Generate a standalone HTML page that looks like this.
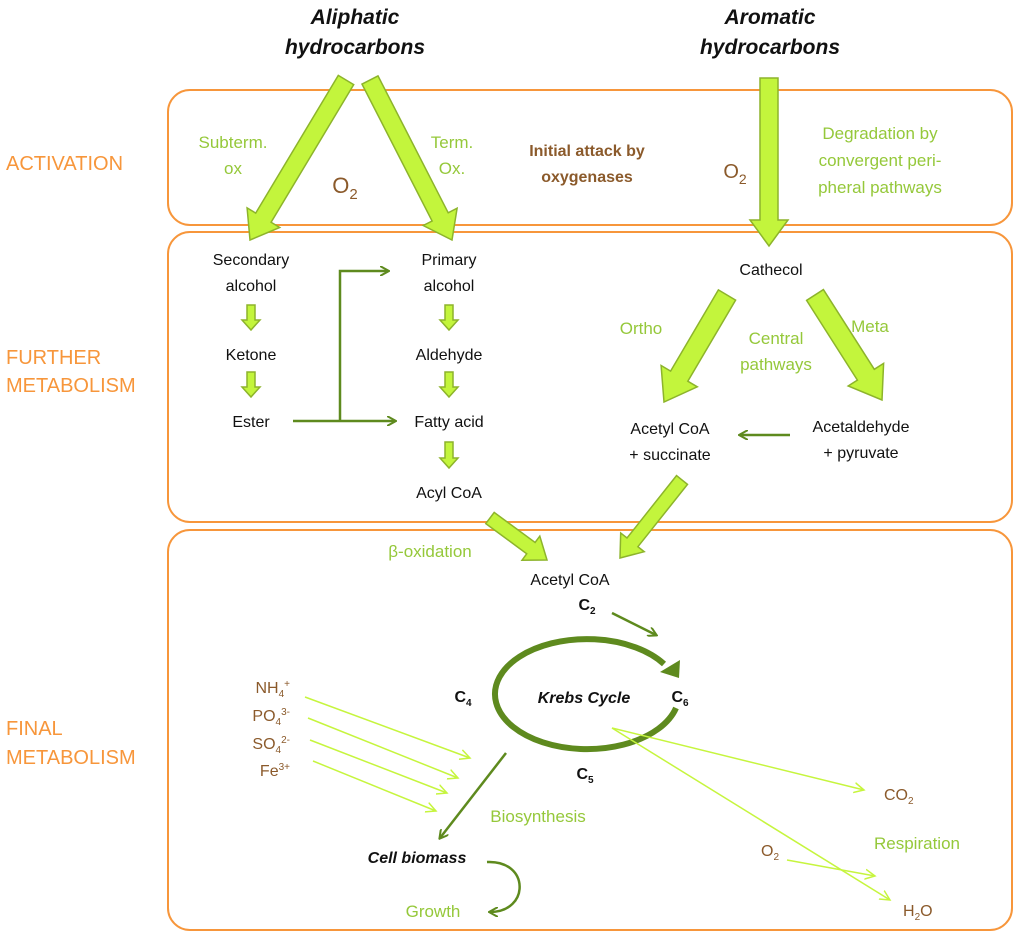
<!DOCTYPE html>
<html><head><meta charset="utf-8"><style>
body{margin:0;background:#fff}
svg{display:block;font-family:"Liberation Sans",sans-serif}
.o{fill:#F7963B;font-size:20px}
.g{fill:#95C83A;font-size:17px}
.k{fill:#111;font-size:16px}
.b{fill:#8B5A2B;font-size:16px}
</style></head><body>
<svg id="s" width="1024" height="947" viewBox="0 0 1024 947">
<defs>
<marker id="dg" markerWidth="10" markerHeight="10" refX="8" refY="5" orient="auto" markerUnits="userSpaceOnUse"><path d="M0,0 L9,5 L0,10" fill="none" stroke="#5E8A1E" stroke-width="2"/></marker>
<marker id="lg" markerWidth="12" markerHeight="12" refX="10" refY="6" orient="auto" markerUnits="userSpaceOnUse"><path d="M0,1 L10,6 L0,11" fill="none" stroke="#C6F53E" stroke-width="1.5"/></marker>
</defs>
<rect x="168" y="90" width="844" height="135" rx="22" fill="none" stroke="#F7963B" stroke-width="2"/>
<rect x="168" y="232" width="844" height="290" rx="22" fill="none" stroke="#F7963B" stroke-width="2"/>
<rect x="168" y="530" width="844" height="400" rx="22" fill="none" stroke="#F7963B" stroke-width="2"/>
<g id="fat"></g>
<text x="6" y="170" class="o">ACTIVATION</text>
<text x="6" y="364" class="o">FURTHER</text>
<text x="6" y="392" class="o">METABOLISM</text>
<text x="6" y="735" class="o">FINAL</text>
<text x="6" y="764" class="o">METABOLISM</text>
<g font-weight="bold" font-style="italic" font-size="21" fill="#111" text-anchor="middle">
<text x="355" y="24">Aliphatic</text><text x="355" y="54">hydrocarbons</text>
<text x="770" y="24">Aromatic</text><text x="770" y="54">hydrocarbons</text></g>
<g text-anchor="middle">
<text x="233" y="148" class="g">Subterm.</text><text x="233" y="174" class="g">ox</text>
<text x="452" y="148" class="g">Term.</text><text x="452" y="174" class="g">Ox.</text>
<text x="345" y="193" fill="#8B5A2B" font-size="22">O<tspan font-size="15" dy="6">2</tspan></text>
<text x="587" y="156" class="b" font-weight="bold" font-size="17">Initial attack by</text>
<text x="587" y="182" class="b" font-weight="bold" font-size="17">oxygenases</text>
<text x="735" y="178" fill="#8B5A2B" font-size="20">O<tspan font-size="14" dy="6">2</tspan></text>
<text x="880" y="139" class="g">Degradation by</text>
<text x="880" y="166" class="g">convergent peri-</text>
<text x="880" y="193" class="g">pheral pathways</text>
<text x="251" y="265" class="k">Secondary</text><text x="251" y="291" class="k">alcohol</text>
<text x="449" y="265" class="k">Primary</text><text x="449" y="291" class="k">alcohol</text>
<text x="251" y="360" class="k">Ketone</text><text x="251" y="427" class="k">Ester</text>
<text x="449" y="360" class="k">Aldehyde</text><text x="449" y="427" class="k">Fatty acid</text>
<text x="449" y="498" class="k">Acyl CoA</text>
<text x="771" y="275" class="k">Cathecol</text>
<text x="641" y="334" class="g">Ortho</text>
<text x="776" y="344" class="g">Central</text><text x="776" y="370" class="g">pathways</text>
<text x="870" y="332" class="g">Meta</text>
<text x="670" y="434" class="k">Acetyl CoA</text><text x="670" y="460" class="k">+ succinate</text>
<text x="861" y="432" class="k">Acetaldehyde</text><text x="861" y="458" class="k">+ pyruvate</text>
<text x="430" y="557" class="g">β-oxidation</text>
<text x="570" y="585" class="k">Acetyl CoA</text>
<text x="587" y="610" class="k" font-weight="bold">C<tspan font-size="10" dy="4">2</tspan></text>
<text x="463" y="702" class="k" font-weight="bold">C<tspan font-size="10" dy="4">4</tspan></text>
<text x="680" y="702" class="k" font-weight="bold">C<tspan font-size="10" dy="4">6</tspan></text>
<text x="585" y="779" class="k" font-weight="bold">C<tspan font-size="10" dy="4">5</tspan></text>
<text x="584" y="703" class="k" font-weight="bold" font-style="italic" font-size="17">Krebs Cycle</text>
<text x="417" y="863" class="k" font-weight="bold" font-style="italic">Cell biomass</text>
<text x="433" y="917" class="g">Growth</text>
<text x="538" y="822" class="g">Biosynthesis</text>
<text x="917" y="849" class="g">Respiration</text>
</g>
<g text-anchor="end">
<text x="290" y="693" class="b">NH<tspan font-size="10" dy="4">4</tspan><tspan font-size="10" dy="-10">+</tspan></text>
<text x="290" y="721" class="b">PO<tspan font-size="10" dy="4">4</tspan><tspan font-size="10" dy="-10">3-</tspan></text>
<text x="290" y="749" class="b">SO<tspan font-size="10" dy="4">4</tspan><tspan font-size="10" dy="-10">2-</tspan></text>
<text x="290" y="776" class="b">Fe<tspan font-size="10" dy="-6">3+</tspan></text>
</g>
<text x="884" y="800" class="b">CO<tspan font-size="10" dy="4">2</tspan></text>
<text x="903" y="916" class="b">H<tspan font-size="10" dy="4">2</tspan><tspan dy="-4">O</tspan></text>
<text x="761" y="856" class="b">O<tspan font-size="10" dy="4">2</tspan></text>
<g stroke="#5E8A1E" stroke-width="2.5" fill="none">
<path d="M293,421 H395" marker-end="url(#dg)"/>
<path d="M340,421 V271 H388" marker-end="url(#dg)"/>
<path d="M790,435 H740" marker-end="url(#dg)"/>
<path d="M612,613 L656,635" marker-end="url(#dg)"/>
<path d="M506,753 L440,838" marker-end="url(#dg)"/>
<path d="M487,862 C530,860 530,912 490,912" marker-end="url(#dg)"/>
<path d="M676,708 A92,55 0 1 1 664,664" stroke-width="6"/>
</g>
<polygon points="660,672 680,660 679,678" fill="#5E8A1E"/>
<g stroke="#C6F53E" stroke-width="1.5" fill="none">
<path d="M305,697 L470,758" marker-end="url(#lg)"/>
<path d="M308,718 L458,778" marker-end="url(#lg)"/>
<path d="M310,740 L447,793" marker-end="url(#lg)"/>
<path d="M313,761 L436,811" marker-end="url(#lg)"/>
<path d="M612,728 L864,790" marker-end="url(#lg)"/>
<path d="M612,728 L890,900" marker-end="url(#lg)"/>
<path d="M787,860 L875,876" marker-end="url(#lg)"/>
</g>
</svg>
<script>
function fat(x1,y1,x2,y2,sw,hw,hl){
 var dx=x2-x1,dy=y2-y1,L=Math.hypot(dx,dy),ux=dx/L,uy=dy/L,px=-uy,py=ux;
 var bx=x2-ux*hl,by=y2-uy*hl;
 var p=[[x1+px*sw,y1+py*sw],[bx+px*sw,by+py*sw],[bx+px*hw,by+py*hw],[x2,y2],[bx-px*hw,by-py*hw],[bx-px*sw,by-py*sw],[x1-px*sw,y1-py*sw]];
 return '<polygon points="'+p.map(function(a){return a[0].toFixed(1)+','+a[1].toFixed(1)}).join(' ')+'" fill="#C3F53C" stroke="#8DB42B" stroke-width="1.5"/>';
}
var a=[[346,80,250,240,9,19,26],[370,80,452,240,9,19,26],[769,78,769,246,9,19,26],
[727,295,664,402,10,21,30],[815,295,882,400,10,21,30],[682,480,620,558,7,15,20],[490,518,547,560,7,15,20],
[251,305,251,330,4,9,10],[251,372,251,397,4,9,10],[449,305,449,330,4,9,10],[449,372,449,397,4,9,10],[449,442,449,468,4,9,10]];
document.getElementById('fat').innerHTML=a.map(function(v){return fat.apply(null,v)}).join('');
</script>
</body></html>
